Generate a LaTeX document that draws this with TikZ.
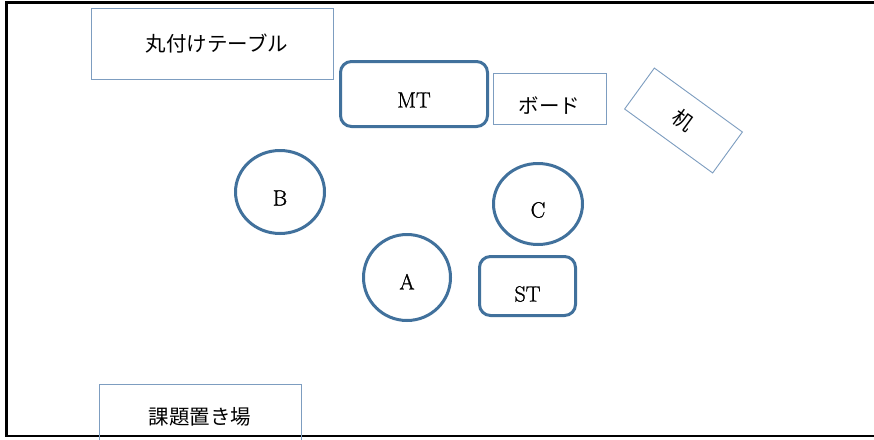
\documentclass[tikz,border=0pt]{standalone}
\usepackage{fontspec}
\newfontfamily\jp{Noto Sans CJK JP}
\newfontfamily\lat{Latin Modern Roman}[FakeBold=1.2]
\usetikzlibrary{shapes.geometric}
\definecolor{mainblue}{RGB}{65,113,156}
\definecolor{lightblue}{RGB}{125,157,192}
\begin{document}
\begin{tikzpicture}[x=1pt,y=-1pt,
  seat/.style={ellipse, draw=mainblue, line width=3pt, inner sep=0pt,
    font=\lat\fontsize{22}{22}\selectfont, text height=27pt, text depth=0pt},
  tbl/.style={rectangle, rounded corners=11pt, draw=mainblue, line width=3pt, inner sep=0pt,
    font=\lat\fontsize{22}{22}\selectfont, text depth=0pt},
  furn/.style={rectangle, draw=lightblue, line width=0.9pt, inner sep=0pt,
    font=\jp\fontsize{20.5}{20.5}\selectfont}]
\useasboundingbox (0,0) rectangle (874,439);
\clip (0,0) rectangle (874,439);
\fill[white] (0,0) rectangle (874,439);
% outer frame
\draw[line width=2.5pt] (6.5,2.5) rectangle (890,436);
% furniture
\node[furn, minimum width=242pt, minimum height=71pt] (maru) at (212,43.5) {\hspace*{10pt}丸付けテーブル};
\node[furn, minimum width=113pt, minimum height=51pt, text height=29.6pt, text depth=0pt] (board) at (549.5,98.5) {ボード};
\node[furn, minimum width=108.8pt, minimum height=50.6pt, rotate=-36] (desk) at (683.5,120.5) {机};
\node[furn, minimum width=202pt, minimum height=65pt] (kadai) at (200,416.5) {課題置き場};
% tables
\node[tbl, minimum width=147pt, minimum height=65pt, text height=27pt] (mt) at (414,94) {MT};
\node[tbl, minimum width=96pt, minimum height=59pt, text height=31pt] (st) at (527.5,286) {ST};
% seats
\node[seat, minimum width=89pt, minimum height=83pt] (b) at (280,192) {B};
\node[seat, minimum width=89pt, minimum height=81pt] (c) at (538,204) {C};
\node[seat, minimum width=87pt, minimum height=86pt, text height=24pt] (a) at (407,277.5) {A};
\end{tikzpicture}
\end{document}
